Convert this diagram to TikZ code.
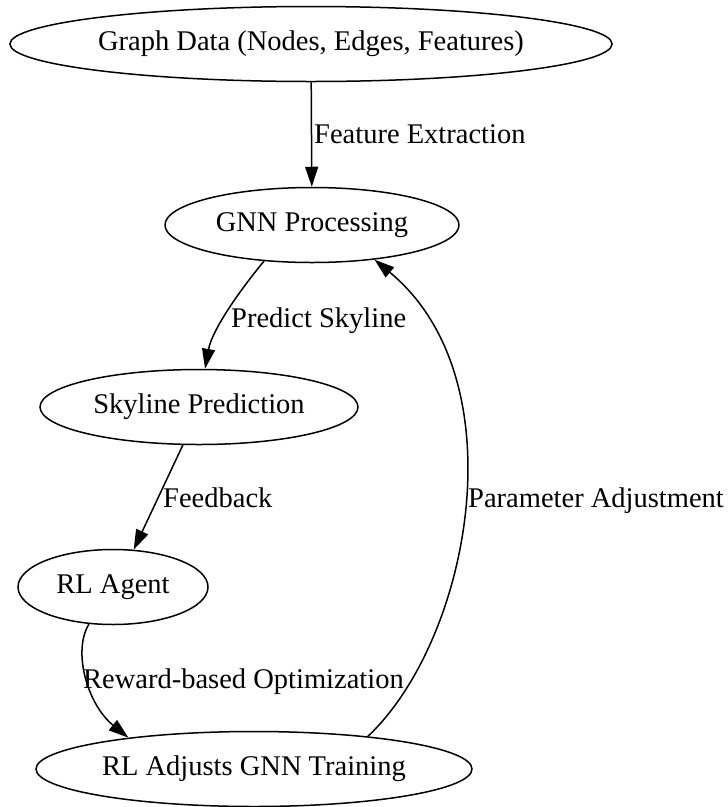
\documentclass[tikz,border=0pt]{standalone}
\usepackage{fontspec}
\setmainfont{Liberation Serif}
\usetikzlibrary{shapes.geometric,arrows.meta}

\tikzset{
  flownode/.style={draw=black, line width=1.5pt, ellipse, inner sep=0pt,
    font=\fontsize{28.5}{30}\selectfont},
  edgelabel/.style={anchor=base west, inner sep=0pt,
    font=\fontsize{28.5}{30}\selectfont},
  flow/.style={draw=black, line width=1.5pt,
    -{Triangle[length=20pt,width=13pt]}},
}

\begin{document}
\begin{tikzpicture}[x=1pt,y=-1pt]
  \useasboundingbox (0,0) rectangle (728,807);

  % nodes
  \node[flownode, minimum width=602pt, minimum height=75pt] (data)  at (311,44)  {Graph Data (Nodes, Edges, Features)};
  \node[flownode, minimum width=294pt, minimum height=75pt] (gnn)   at (312,225) {GNN Processing};
  \node[flownode, minimum width=318pt, minimum height=75pt] (sky)   at (199,407) {Skyline Prediction};
  \node[flownode, minimum width=190pt, minimum height=75pt] (agent) at (113,587) {RL Agent};
  \node[flownode, minimum width=436pt, minimum height=75pt] (adj)   at (254,769) {RL Adjusts GNN Training};

  % connectors
  \draw[flow] (data) -- (gnn);
  \draw[flow] (gnn.217) .. controls (240,290) and (212,330) .. (sky.81);
  \draw[flow] (sky.-113.5) -- (agent.61);
  \draw[flow] (agent.237.4) .. controls (72,652) and (88,705) .. (adj.166.2);
  \draw[flow] (adj.16.6) .. controls (470,640) and (520,380) .. (gnn.-29.4);

  % connector labels
  \node[edgelabel] (lfeat)   at (314,143) {Feature Extraction};
  \node[edgelabel] (lpred)   at (231,327) {Predict Skyline};
  \node[edgelabel] (lfeed)   at (163,507) {Feedback};
  \node[edgelabel] (lreward) at (83,688)  {Reward-based Optimization};
  \node[edgelabel] (lparam)  at (468,507) {Parameter Adjustment};
\end{tikzpicture}
\end{document}
